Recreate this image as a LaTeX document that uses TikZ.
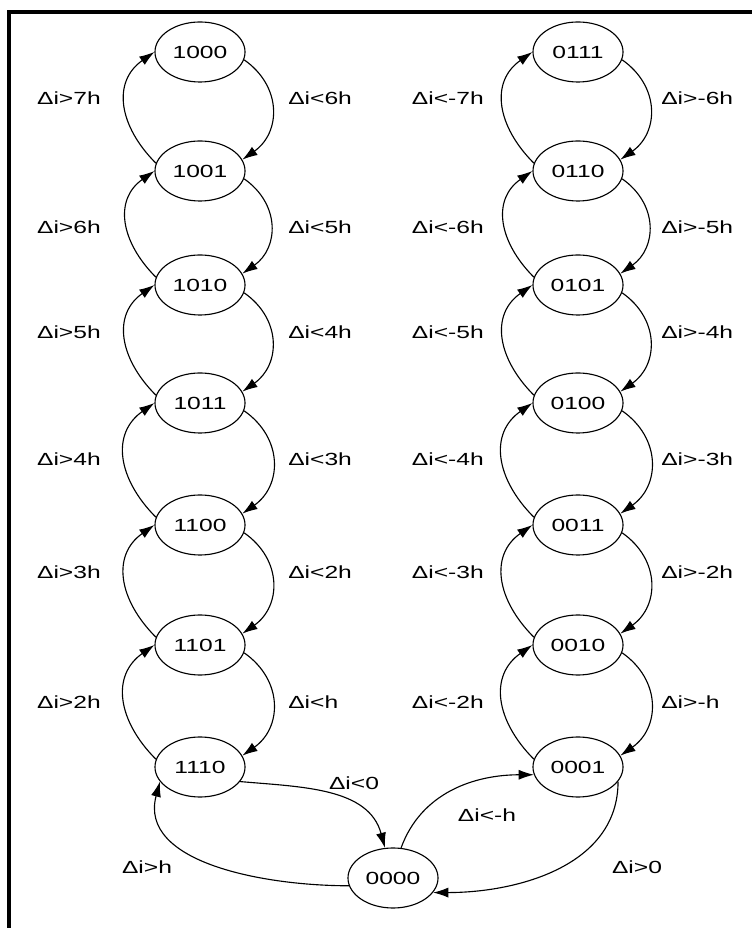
\documentclass[tikz,border=0pt]{standalone}
\usepackage{fontspec}
\newfontfamily\diagfont[FakeStretch=1.4]{Liberation Sans}
\usetikzlibrary{
    arrows.meta,      % For arrow tips
    shapes.geometric  % For ellipse states
}

\begin{document}
\begin{tikzpicture}[
    x=0.025cm, y=0.025cm, % one unit = one pixel of the layout
    >={Latex[length=3.8mm,width=2.5mm]}, % Set default arrow tip style
    state/.style={draw, ellipse, line width=0.8pt, minimum width=2.25cm,
        minimum height=1.5cm, inner sep=0pt,
        font=\diagfont\fontsize{12.5}{14}\selectfont},
    trans/.style={->, line width=0.8pt}, % Base style for transitions
    goup/.style={trans, out=135, in=215, looseness=1.2},
    godown/.style={trans, out=-35, in=35, looseness=1.2},
    labelstyle/.style={inner sep=0pt, font=\diagfont\fontsize{12.5}{14}\selectfont},
    frameline/.style={line width=0.1cm}]

    \useasboundingbox (0,0) rectangle (752,928);

    % Frame (top and left edge)
    \draw[frameline] (9,0) -- (9,916) -- (752,916);

    % Left column of states
    \node[state] (n1000) at (200,876) {1000};
    \node[state] (n1001) at (200,757) {1001};
    \node[state] (n1010) at (200,643) {1010};
    \node[state] (n1011) at (200,525) {1011};
    \node[state] (n1100) at (200,403) {1100};
    \node[state] (n1101) at (200,283) {1101};
    \node[state] (n1110) at (200,161) {1110};

    % Right column of states
    \node[state] (n0111) at (578,876) {0111};
    \node[state] (n0110) at (578,757) {0110};
    \node[state] (n0101) at (578,643) {0101};
    \node[state] (n0100) at (578,525) {0100};
    \node[state] (n0011) at (578,403) {0011};
    \node[state] (n0010) at (578,283) {0010};
    \node[state] (n0001) at (578,161) {0001};

    % Zero state at the bottom
    \node[state] (n0000) at (393,50) {0000};

    % Left column: up on the left, down on the right
    \draw[goup] (n1001.170) to (n1000.west);
    \draw[godown] (n1000.-10) to (n1001.15);
    \draw[goup] (n1010.170) to (n1001.west);
    \draw[godown] (n1001.-10) to (n1010.15);
    \draw[goup] (n1011.170) to (n1010.west);
    \draw[godown] (n1010.-10) to (n1011.15);
    \draw[goup] (n1100.170) to (n1011.west);
    \draw[godown] (n1011.-10) to (n1100.15);
    \draw[goup] (n1101.170) to (n1100.west);
    \draw[godown] (n1100.-10) to (n1101.15);
    \draw[goup] (n1110.170) to (n1101.west);
    \draw[godown] (n1101.-10) to (n1110.15);

    \node[labelstyle, anchor=east] (lu1) at (101,830) {Δi>7h};
    \node[labelstyle, anchor=east] (lu2) at (101,701) {Δi>6h};
    \node[labelstyle, anchor=east] (lu3) at (101,596) {Δi>5h};
    \node[labelstyle, anchor=east] (lu4) at (101,469) {Δi>4h};
    \node[labelstyle, anchor=east] (lu5) at (101,356) {Δi>3h};
    \node[labelstyle, anchor=east] (lu6) at (101,226) {Δi>2h};
    \node[labelstyle, anchor=west] (ld1) at (288,830) {Δi<6h};
    \node[labelstyle, anchor=west] (ld2) at (288,701) {Δi<5h};
    \node[labelstyle, anchor=west] (ld3) at (288,596) {Δi<4h};
    \node[labelstyle, anchor=west] (ld4) at (288,469) {Δi<3h};
    \node[labelstyle, anchor=west] (ld5) at (288,356) {Δi<2h};
    \node[labelstyle, anchor=west] (ld6) at (288,226) {Δi<h};

    % Right column: up on the left, down on the right
    \draw[goup] (n0110.170) to (n0111.west);
    \draw[godown] (n0111.-10) to (n0110.15);
    \draw[goup] (n0101.170) to (n0110.west);
    \draw[godown] (n0110.-10) to (n0101.15);
    \draw[goup] (n0100.170) to (n0101.west);
    \draw[godown] (n0101.-10) to (n0100.15);
    \draw[goup] (n0011.170) to (n0100.west);
    \draw[godown] (n0100.-10) to (n0011.15);
    \draw[goup] (n0010.170) to (n0011.west);
    \draw[godown] (n0011.-10) to (n0010.15);
    \draw[goup] (n0001.170) to (n0010.west);
    \draw[godown] (n0010.-10) to (n0001.15);

    \node[labelstyle, anchor=east] (ru1) at (484,830) {Δi<-7h};
    \node[labelstyle, anchor=east] (ru2) at (484,701) {Δi<-6h};
    \node[labelstyle, anchor=east] (ru3) at (484,596) {Δi<-5h};
    \node[labelstyle, anchor=east] (ru4) at (484,469) {Δi<-4h};
    \node[labelstyle, anchor=east] (ru5) at (484,356) {Δi<-3h};
    \node[labelstyle, anchor=east] (ru6) at (484,226) {Δi<-2h};
    \node[labelstyle, anchor=west] (rd1) at (661,830) {Δi>-6h};
    \node[labelstyle, anchor=west] (rd2) at (661,701) {Δi>-5h};
    \node[labelstyle, anchor=west] (rd3) at (661,596) {Δi>-4h};
    \node[labelstyle, anchor=west] (rd4) at (661,469) {Δi>-3h};
    \node[labelstyle, anchor=west] (rd5) at (661,356) {Δi>-2h};
    \node[labelstyle, anchor=west] (rd6) at (661,226) {Δi>-h};

    % Transitions through the zero state
    \draw[trans] (n1110.-20) to[out=-5, in=105] (n0000.105);
    \draw[trans] (n0000.190) to[out=180, in=-105] (n1110.200);
    \draw[trans] (n0000.75) to[out=70, in=180] (n0001.190);
    \draw[trans] (n0001.-20) to[out=-90, in=0] (n0000.-20);

    \node[labelstyle] (z1) at (354,145) {Δi<0};
    \node[labelstyle] (z2) at (147,61) {Δi>h};
    \node[labelstyle] (z3) at (487,113) {Δi<-h};
    \node[labelstyle] (z4) at (637,61) {Δi>0};

\end{tikzpicture}
\end{document}
